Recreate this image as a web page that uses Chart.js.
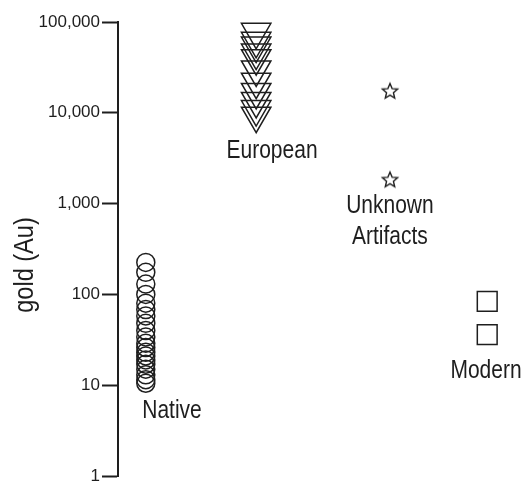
<!DOCTYPE html>
<html>
<head>
<meta charset="utf-8">
<script src="https://cdn.jsdelivr.net/npm/chart.js@4/dist/chart.umd.min.js"></script>
<style>
  body { margin: 0; background: #fff; }
  #wrap { width: 525px; height: 482px; }
</style>
</head>
<body>
<div id="wrap"><canvas id="goldChart" width="525" height="482"></canvas></div>
<script>
// Data (gold content, log scale)
const groups = ['Native', 'European', 'Unknown Artifacts', 'Modern'];
const groupX = [7, 34.8, 68.5, 93];   // horizontal slot of each group
const nativeGold = [225, 175, 130, 100, 80, 68, 58, 48, 40, 34, 29, 26, 23, 21, 19, 17, 15, 13, 11.5, 10.5];
const europeanGold = [78000, 62000, 55000, 46000, 40000, 30000, 22000, 17000, 13500, 11000, 9300];
const unknownGold = [17500, 1850];
const modernGold = [84, 36];
const yTicks = [1, 10, 100, 1000, 10000, 100000];

const ink = '#1e1e1e';
const narrow = 0.84; // the figure's labels use a condensed face

// outlined five point star for the unknown artifacts
function starImage() {
    const c = document.createElement('canvas');
    c.width = 20; c.height = 20;
    const g = c.getContext('2d');
    g.strokeStyle = ink;
    g.lineWidth = 1.4;
    g.beginPath();
    for (let i = 0; i < 10; i++) {
        const r = i % 2 === 0 ? 8 : 3.6;
        const a = -Math.PI / 2 + i * Math.PI / 5;
        const px = 10 + r * Math.cos(a), py = 10.8 + r * Math.sin(a);
        if (i === 0) g.moveTo(px, py); else g.lineTo(px, py);
    }
    g.closePath();
    g.stroke();
    return c;
}

function toPoints(values, gi) {
    return values.map(v => ({ x: groupX[gi], y: v }));
}

// group names written under each cloud of points
const groupLabels = [
    { lines: ['Native'], x: 13.6, y: 5.2 },
    { lines: ['European'], x: 38.8, y: 3800 },
    { lines: ['Unknown', 'Artifacts'], x: 68.5, y: 950 },
    { lines: ['Modern'], x: 92.7, y: 14.3 }
];

function narrowText(ctx, text, x, y) {
    ctx.save();
    ctx.translate(x, y);
    ctx.scale(narrow, 1);
    ctx.fillText(text, 0, 0);
    ctx.restore();
}

const groupLabelPlugin = {
    id: 'groupLabels',
    afterDatasetsDraw(chart) {
        const ctx = chart.ctx;
        const xs = chart.scales.x, ys = chart.scales.y;
        ctx.save();
        ctx.fillStyle = ink;
        ctx.font = '25px "Liberation Sans", Arial, sans-serif';
        ctx.textAlign = 'center';
        ctx.textBaseline = 'middle';
        groupLabels.forEach(l => {
            const px = xs.getPixelForValue(l.x);
            const py = ys.getPixelForValue(l.y);
            l.lines.forEach((t, i) => narrowText(ctx, t, px, py + i * 31));
        });
        // axis title
        ctx.translate(33, 265);
        ctx.rotate(-Math.PI / 2);
        ctx.textBaseline = 'alphabetic';
        ctx.font = '28px "Liberation Sans", Arial, sans-serif';
        narrowText(ctx, 'gold (Au)', 0, 0);
        ctx.restore();
    }
};

const ctx = document.getElementById('goldChart').getContext('2d');
new Chart(ctx, {
    type: 'scatter',
    data: {
        datasets: [
            {
                label: groups[0], data: toPoints(nativeGold, 0),
                pointStyle: 'circle', pointRadius: 9,
                borderColor: ink, borderWidth: 1.5, backgroundColor: 'rgba(0,0,0,0)'
            },
            {
                label: groups[1], data: toPoints(europeanGold, 1),
                pointStyle: 'triangle', rotation: 180, pointRadius: 17,
                borderColor: ink, borderWidth: 1.5, backgroundColor: 'rgba(0,0,0,0)'
            },
            {
                label: groups[2], data: toPoints(unknownGold, 2),
                pointStyle: starImage(), pointRadius: 10
            },
            {
                label: groups[3], data: toPoints(modernGold, 3),
                pointStyle: 'rect', pointRadius: 14,
                borderColor: ink, borderWidth: 1.5, backgroundColor: 'rgba(0,0,0,0)'
            }
        ]
    },
    options: {
        responsive: false,
        animation: false,
        layout: { autoPadding: false, padding: { top: 22, bottom: 6, left: 0, right: 10 } },
        plugins: {
            legend: { display: false },
            tooltip: { enabled: false }
        },
        scales: {
            x: { type: 'linear', min: 0, max: 100, display: false },
            y: {
                type: 'logarithmic',
                min: 1,
                max: 100000,
                afterBuildTicks: (scale) => {
                    scale.ticks = yTicks.map(v => ({ value: v }));
                },
                afterFit: (scale) => {
                    scale.width = 118;
                    scale.paddingTop = 0;
                    scale.paddingBottom = 0;
                },
                ticks: {
                    color: ink,
                    padding: 2,
                    font: { family: '"Liberation Sans", Arial, sans-serif', size: 17 },
                    callback: (v) => Number(v).toLocaleString('en-US')
                },
                grid: {
                    drawOnChartArea: false,
                    drawTicks: true,
                    tickLength: 16,
                    tickWidth: 2,
                    tickColor: ink
                },
                border: { display: true, color: ink, width: 2 },
                title: { display: false }
            }
        }
    },
    plugins: [groupLabelPlugin]
});
</script>
</body>
</html>
